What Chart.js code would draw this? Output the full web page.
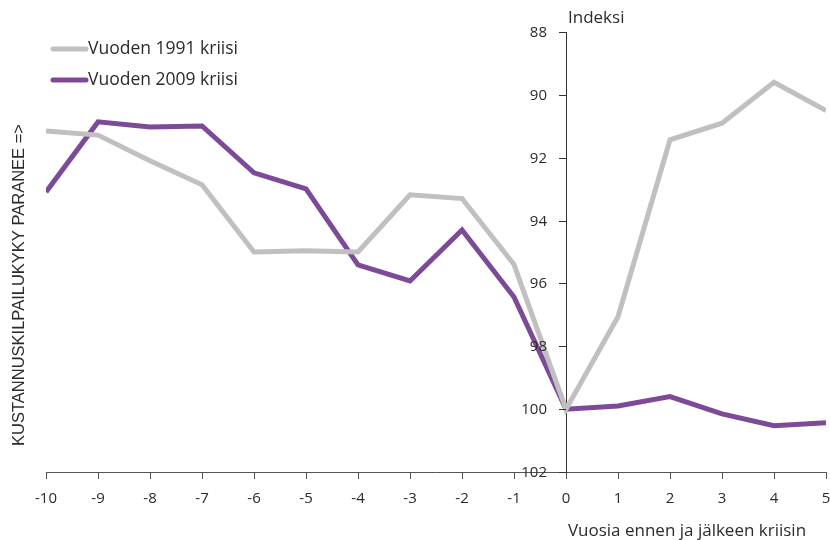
<!DOCTYPE html>
<html>
<head>
<meta charset="utf-8">
<script src="https://cdn.jsdelivr.net/npm/chart.js@4/dist/chart.umd.min.js"></script>
<style>
  html, body { margin: 0; padding: 0; background: #fff; }
  #wrap { width: 830px; height: 540px; position: relative; }
</style>
</head>
<body>
<div id="wrap"><canvas id="kriisit" width="830" height="540"></canvas></div>
<script>
const vuodet = [-10, -9, -8, -7, -6, -5, -4, -3, -2, -1, 0, 1, 2, 3, 4, 5]
const kriisi_1991 = [91.15, 91.28, 92.1, 92.86, 95.0, 94.96, 95.0, 93.18, 93.3, 95.4, 100, 97.06, 91.43, 90.9, 89.6, 90.5]
const kriisi_2009 = [93.09, 90.86, 91.02, 90.99, 92.48, 92.99, 95.41, 95.92, 94.3, 96.43, 100, 99.9, 99.6, 100.15, 100.53, 100.43]
const y_tiksit = [88, 90, 92, 94, 96, 98, 100, 102]

const fontti = '"Open Sans", "Noto Sans", sans-serif'
const teksti_vari = '#2b2b2b'

const tekstit = {
  id: 'tekstit',
  afterDraw(chart) {
    const ctx = chart.ctx
    const x = chart.scales.x
    const y = chart.scales.y
    const x0 = x.getPixelForValue(0)
    ctx.save()
    ctx.fillStyle = teksti_vari
    ctx.textBaseline = 'middle'

    // y-akselin tiksit ja luvut
    ctx.strokeStyle = '#333333'
    ctx.lineWidth = 1
    ctx.font = '15px ' + fontti
    ctx.textAlign = 'right'
    y.ticks.forEach(t => {
      const py = Math.round(y.getPixelForValue(t.value)) + 0.5
      ctx.beginPath()
      ctx.moveTo(x0 - 7, py)
      ctx.lineTo(x0, py)
      ctx.stroke()
      ctx.fillText(String(t.value), x0 - 19, py)
    })

    // selite
    ctx.font = '17.5px ' + fontti
    const rivit = [49, 80]
    chart.data.datasets.forEach((ds, i) => {
      ctx.strokeStyle = ds.borderColor
      ctx.lineWidth = 5
      ctx.lineCap = 'round'
      ctx.beginPath()
      ctx.moveTo(53, rivit[i])
      ctx.lineTo(86, rivit[i])
      ctx.stroke()
      ctx.textAlign = 'left'
      ctx.fillText(ds.label, 88, rivit[i])
    })

    ctx.font = '17px ' + fontti
    ctx.textAlign = 'left'
    ctx.fillText('Indeksi', x0 + 2, 18)

    ctx.textAlign = 'center'
    ctx.fillText('Vuosia ennen ja jälkeen kriisin', 687, 531)

    ctx.translate(19, 285)
    ctx.rotate(-Math.PI / 2)
    ctx.font = '16.5px "Liberation Sans", Arial, sans-serif'
    ctx.fillText('KUSTANNUSKILPAILUKYKY PARANEE =>', 0, 0)
    ctx.restore()
  }
}

window.addEventListener('load', () => {
  Chart.defaults.font.family = fontti
  Chart.defaults.font.size = 15
  Chart.defaults.color = teksti_vari

  new Chart(document.getElementById('kriisit'), {
    type: 'line',
    data: {
      datasets: [{
        label: 'Vuoden 1991 kriisi',
        data: vuodet.map((v, i) => ({ x: v, y: kriisi_1991[i] })),
        borderColor: '#c0c0c0',
        borderWidth: 5,
        pointRadius: 0,
        tension: 0
      }, {
        label: 'Vuoden 2009 kriisi',
        data: vuodet.map((v, i) => ({ x: v, y: kriisi_2009[i] })),
        borderColor: '#7d4a98',
        borderWidth: 5,
        pointRadius: 0,
        tension: 0
      }]
    },
    options: {
      responsive: false,
      animation: false,
      layout: { padding: { left: 46, right: 4, top: 32, bottom: 21 } },
      plugins: {
        legend: { display: false },
        tooltip: { enabled: false }
      },
      scales: {
        x: {
          type: 'linear',
          min: -10,
          max: 5,
          afterBuildTicks: (s) => { s.ticks = vuodet.map(v => ({ value: v })) },
          afterFit: (s) => { s.paddingRight = 0; s.paddingLeft = 0 },
          grid: { drawOnChartArea: false, drawTicks: true, tickLength: 7, color: '#555555' },
          border: { color: '#555555', width: 1 },
          ticks: { padding: 11, color: teksti_vari, font: { size: 15 }, maxRotation: 0, autoSkip: false }
        },
        y: {
          type: 'linear',
          reverse: true,
          min: 88,
          max: 102,
          position: { x: 0 },
          afterBuildTicks: (s) => { s.ticks = y_tiksit.map(v => ({ value: v })) },
          afterFit: (s) => { s.paddingTop = 0; s.paddingBottom = 0 },
          grid: { drawOnChartArea: false, drawTicks: false },
          border: { color: '#333333', width: 1 },
          ticks: { display: false }
        }
      }
    },
    plugins: [tekstit]
  })
})
</script>
</body>
</html>
